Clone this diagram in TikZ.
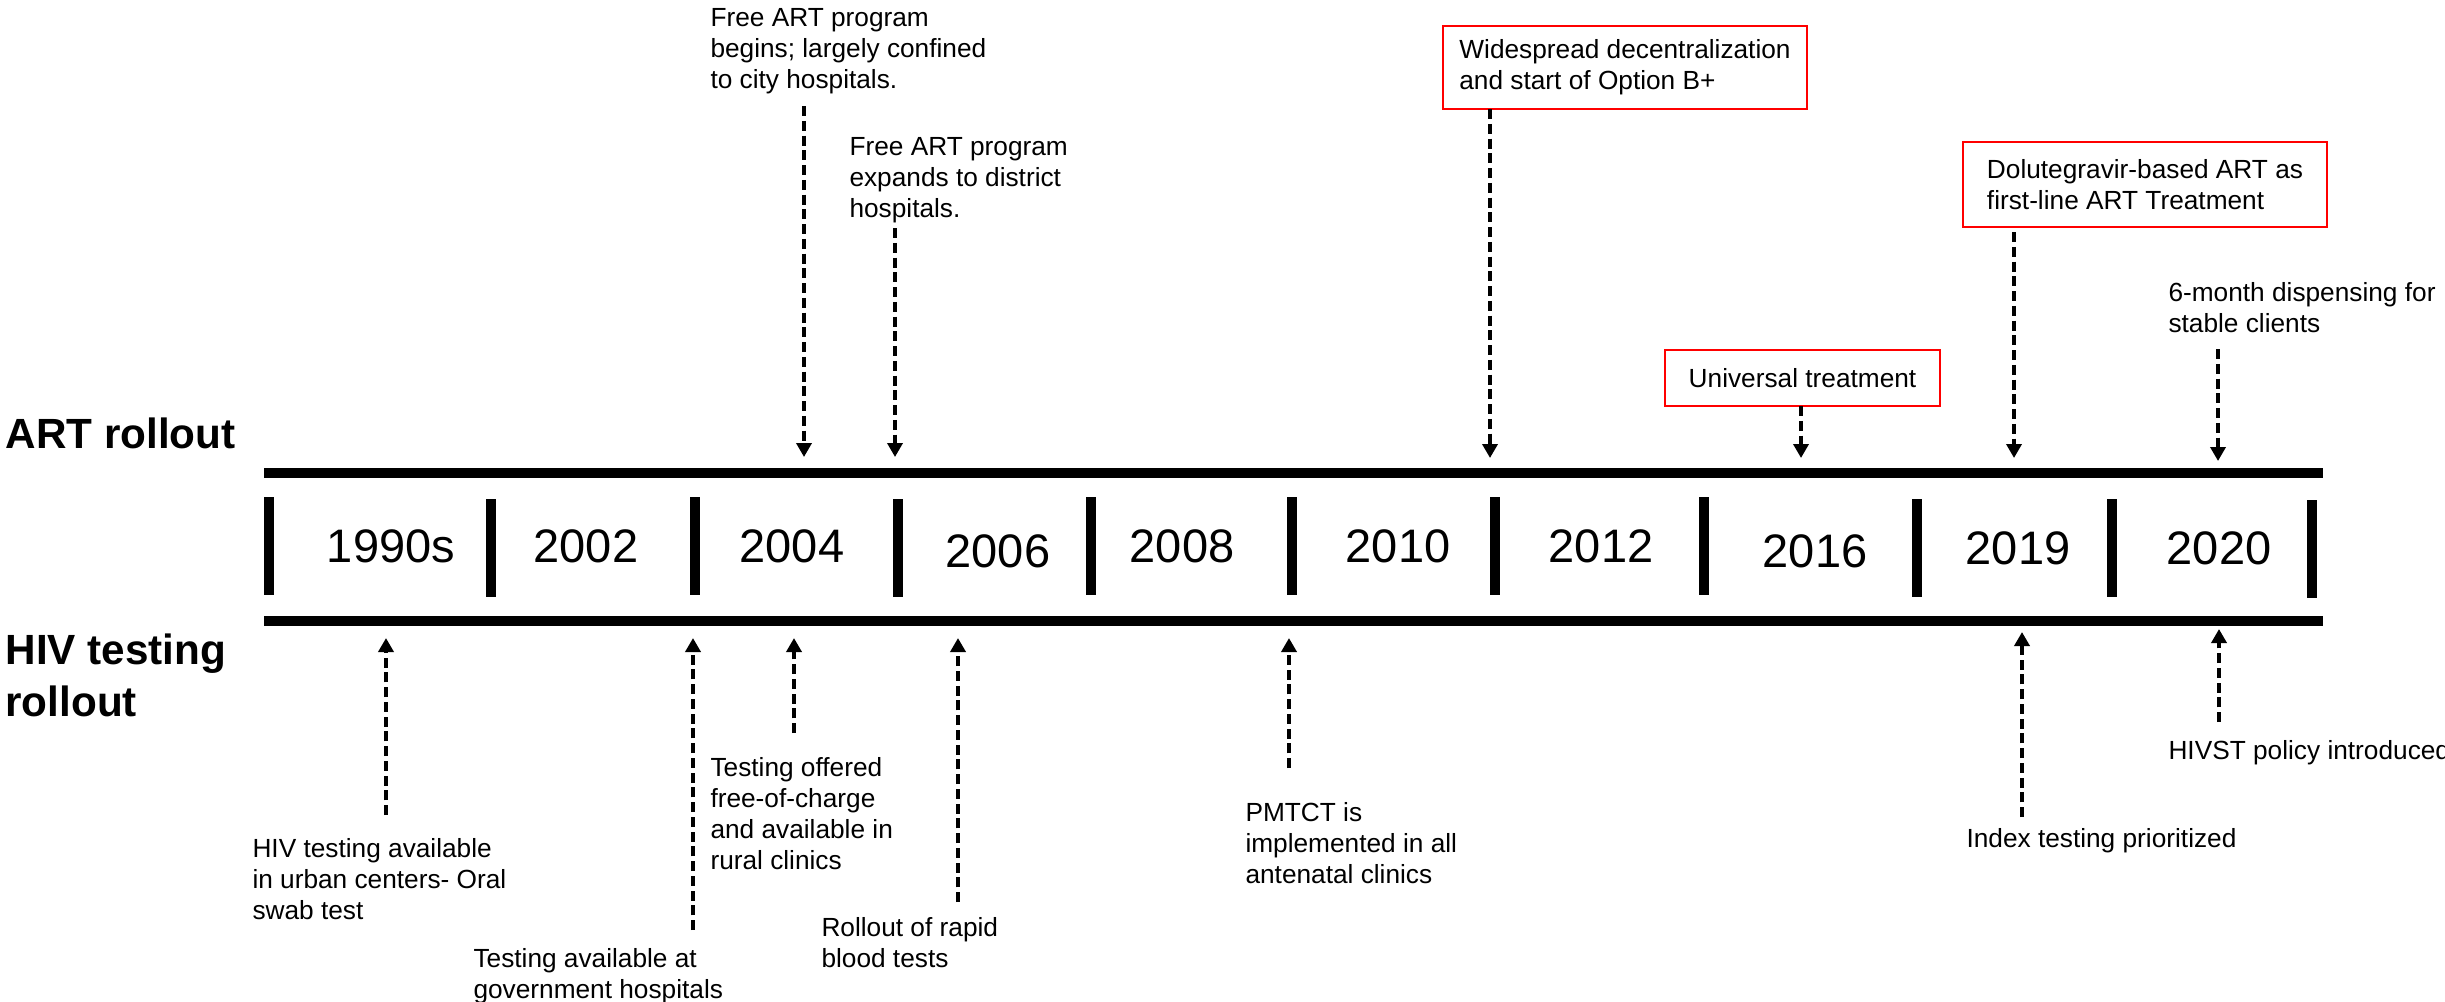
\documentclass[tikz,border=0pt]{standalone}
\usepackage{fontspec}
\setmainfont{Liberation Sans}
\usetikzlibrary{arrows.meta}
\begin{document}
\begin{tikzpicture}[x=0.4pt,y=-0.4pt,
  small/.style={font=\fontsize{10.5}{12.4}\selectfont, inner sep=0pt, align=left, anchor=north west},
  yearlbl/.style={font=\fontsize{18.8}{22}\selectfont, inner sep=0pt, anchor=base},
  rowlbl/.style={font=\bfseries\fontsize{16.9}{20.8}\selectfont, inner sep=0pt, align=left, anchor=north west},
  redbox/.style={draw=red, line width=0.9pt, font=\fontsize{10.5}{12.4}\selectfont, align=left, inner sep=0pt},
  evarrow/.style={line width=1.5pt, dash pattern=on 4pt off 1.9pt, -{Triangle[length=5.6pt,width=6pt]}},
  mainbar/.style={line width=4pt},
  yeartick/.style={line width=4pt}]
\useasboundingbox (0,0) rectangle (2445,1001);

% row labels
\node[rowlbl, anchor=base west] (artlbl) at (5,448) {ART rollout};
\node[rowlbl] (hivlbl) at (5,633) {HIV testing\\rollout};

% bars
\coordinate (barTL) at (264,473);
\coordinate (barTR) at (2323,473);
\coordinate (barBL) at (264,621);
\coordinate (barBR) at (2323,621);
\draw[mainbar] (barTL) -- (barTR);
\draw[mainbar] (barBL) -- (barBR);

% ticks
\foreach \tx/\ta/\tb in {269/497/595, 491/499/597, 695/497/595, 898/499/597, 1091/497/595,
  1292/497/595, 1495/497/595, 1704/497/595, 1917/499/597, 2112/499/597, 2312/500/598}{
  \draw[yeartick] (\tx,\ta) -- (\tx,\tb);
}

% years
\node[yearlbl] (y1990) at (391,562) {1990s};
\node[yearlbl] (y2002) at (586,562) {2002};
\node[yearlbl] (y2004) at (792,562) {2004};
\node[yearlbl] (y2006) at (998,567) {2006};
\node[yearlbl] (y2008) at (1182,562) {2008};
\node[yearlbl] (y2010) at (1398,562) {2010};
\node[yearlbl] (y2012) at (1601,562) {2012};
\node[yearlbl] (y2016) at (1815,567) {2016};
\node[yearlbl] (y2019) at (2018,564) {2019};
\node[yearlbl] (y2020) at (2219,564) {2020};

% ART events
\node[small] (a1) at (710,8) {Free ART program\\begins; largely confined\\to city hospitals.};
\node[small] (a2) at (849,137) {Free ART program\\expands to district\\hospitals.};
\node[redbox, minimum width=145.6pt, minimum height=33.2pt] (a3) at (1625,67.5) {Widespread decentralization\\and start of Option B+};
\node[redbox, minimum width=110pt, minimum height=22.4pt] (a4) at (1802.5,378) {Universal treatment};
\node[redbox, minimum width=145.6pt, minimum height=34pt] (a5) at (2145,184.5) {Dolutegravir-based ART as\\first-line ART Treatment};
\node[small] (a6) at (2168,282) {6-month dispensing for\\stable clients};

\coordinate (a1s) at (804,106);  \coordinate (a1e) at (804,457);
\coordinate (a2s) at (895,228);  \coordinate (a2e) at (895,457);
\coordinate (a3s) at (1490,109); \coordinate (a3e) at (1490,458);
\coordinate (a4s) at (1801,406); \coordinate (a4e) at (1801,458);
\coordinate (a5s) at (2014,232); \coordinate (a5e) at (2014,458);
\coordinate (a6s) at (2218,349); \coordinate (a6e) at (2218,461);
\foreach \k in {1,...,6}{ \draw[evarrow] (a\k s) -- (a\k e); }

% HIV testing events
\node[small] (b1) at (252,838) {HIV testing available\\in urban centers- Oral\\swab test};
\node[small] (b2) at (473,948) {Testing available at\\government hospitals};
\node[small] (b3) at (710,757) {Testing offered\\free-of-charge\\and available in\\rural clinics};
\node[small] (b4) at (821,917) {Rollout of rapid\\blood tests};
\node[small] (b5) at (1245,802) {PMTCT is\\implemented in all\\antenatal clinics};
\node[small] (b6) at (1966,828) {Index testing prioritized};
\node[small] (b7) at (2168,740) {HIVST policy introduced};

\coordinate (b1s) at (386,815);  \coordinate (b1e) at (386,638);
\coordinate (b2s) at (693,930);  \coordinate (b2e) at (693,638);
\coordinate (b3s) at (794,733);  \coordinate (b3e) at (794,638);
\coordinate (b4s) at (958,902);  \coordinate (b4e) at (958,638);
\coordinate (b5s) at (1289,768); \coordinate (b5e) at (1289,638);
\coordinate (b6s) at (2022,817); \coordinate (b6e) at (2022,632);
\coordinate (b7s) at (2219,722); \coordinate (b7e) at (2219,629);
\foreach \k in {1,...,7}{ \draw[evarrow] (b\k s) -- (b\k e); }
\end{tikzpicture}
\end{document}
